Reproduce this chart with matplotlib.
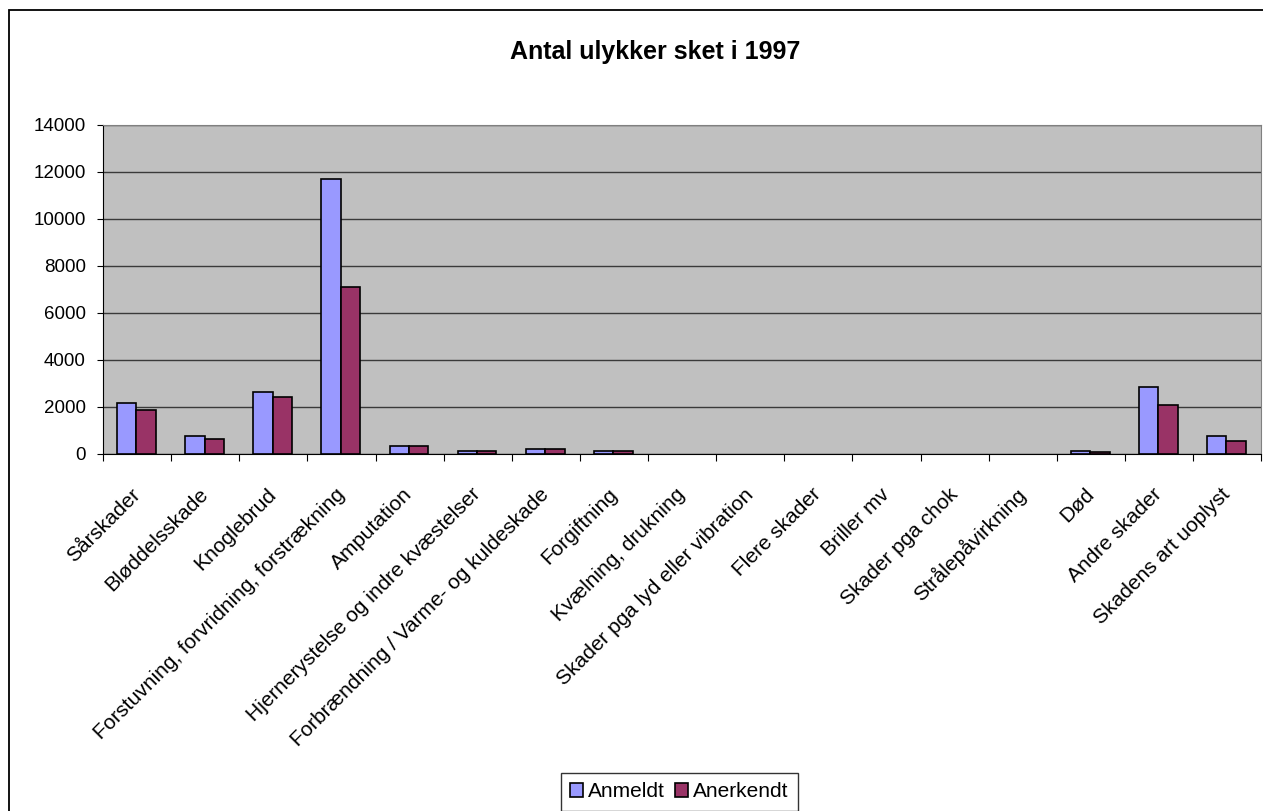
import numpy as np
import matplotlib
matplotlib.use("Agg")
import matplotlib.pyplot as plt
from matplotlib.patches import Rectangle
from matplotlib.transforms import ScaledTranslation

plt.rcParams['font.family'] = ['Liberation Sans', 'DejaVu Sans']

categories = [
    "Sårskader", "Bløddelsskade", "Knoglebrud",
    "Forstuvning, forvridning, forstrækning", "Amputation",
    "Hjernerystelse og indre kvæstelser",
    "Forbrændning / Varme- og kuldeskade", "Forgiftning",
    "Kvælning, drukning", "Skader pga lyd eller vibration",
    "Flere skader", "Briller mv", "Skader pga chok", "Strålepåvirkning",
    "Død", "Andre skader", "Skadens art uoplyst",
]
anmeldt = [2150, 770, 2650, 11690, 330, 140, 210, 140, 0, 0, 0, 0, 0, 0, 140, 2860, 750]
anerkendt = [1870, 620, 2440, 7120, 320, 130, 200, 130, 0, 0, 0, 0, 0, 0, 70, 2100, 550]
yticks = [0, 2000, 4000, 6000, 8000, 10000, 12000, 14000]

fig = plt.figure(figsize=(12.63, 8.11), dpi=100)
ax = fig.add_axes([0.0816, 0.4402, 0.917, 0.4057])
ax.set_facecolor('#C0C0C0')

x = np.arange(len(categories)) + 0.5
w = 0.285
b1 = ax.bar(x - w / 2 - 0.01, anmeldt, w, color='#9999FF', edgecolor='black',
            linewidth=1.2, label='Anmeldt', zorder=3)
b2 = ax.bar(x + w / 2 - 0.01, anerkendt, w, color='#993366', edgecolor='black',
            linewidth=1.2, label='Anerkendt', zorder=3)
# empty categories show no bar outline
for bars in (b1, b2):
    for r in bars:
        if r.get_height() == 0:
            r.set_linewidth(0)

ax.set_xlim(0, len(categories))
ax.set_ylim(0, 14000)
ax.set_yticks(yticks)
ax.set_yticklabels([str(v) for v in yticks], fontsize=13.5)
ax.yaxis.grid(True, color='#3a3a3a', linewidth=1, zorder=1)

ax.set_xticks(np.arange(len(categories) + 1))
ax.set_xticklabels([])
ax.set_xticks(x, minor=True)
ax.set_xticklabels(categories, minor=True, rotation=45, ha='right', va='center',
                   rotation_mode='anchor', fontsize=15)
shift = ScaledTranslation(-0.11, 0, fig.dpi_scale_trans)
for lab in ax.get_xticklabels(minor=True):
    lab.set_transform(lab.get_transform() + shift)
ax.tick_params(axis='x', which='minor', length=0, pad=27)
ax.tick_params(axis='x', which='major', length=5, direction='out', color='black')
ax.tick_params(axis='y', length=4.3, direction='out', pad=8)

for s in ['top', 'right']:
    ax.spines[s].set_color('#808080')
ax.spines['left'].set_color('black')
ax.spines['bottom'].set_color('black')

fig.text(655 / 1263, 0.936, "Antal ulykker sket i 1997", ha='center', va='center',
         fontsize=18, fontweight='bold')

leg = fig.legend(loc='upper left', bbox_to_anchor=(561 / 1263, 1 - 773 / 811),
                 ncol=2, fontsize=15, frameon=True, fancybox=False,
                 handlelength=0.6, handleheight=0.6, handletextpad=0.25,
                 columnspacing=0.5, borderpad=0.45, borderaxespad=0)
leg.get_frame().set_edgecolor('black')
leg.get_frame().set_linewidth(1)

fig.add_artist(Rectangle((9 / 1263, -0.1), 1.2, 1 - 10 / 811 + 0.1,
                         transform=fig.transFigure, fill=False,
                         edgecolor='black', linewidth=1.3))

fig.savefig("out.png", dpi=100)
